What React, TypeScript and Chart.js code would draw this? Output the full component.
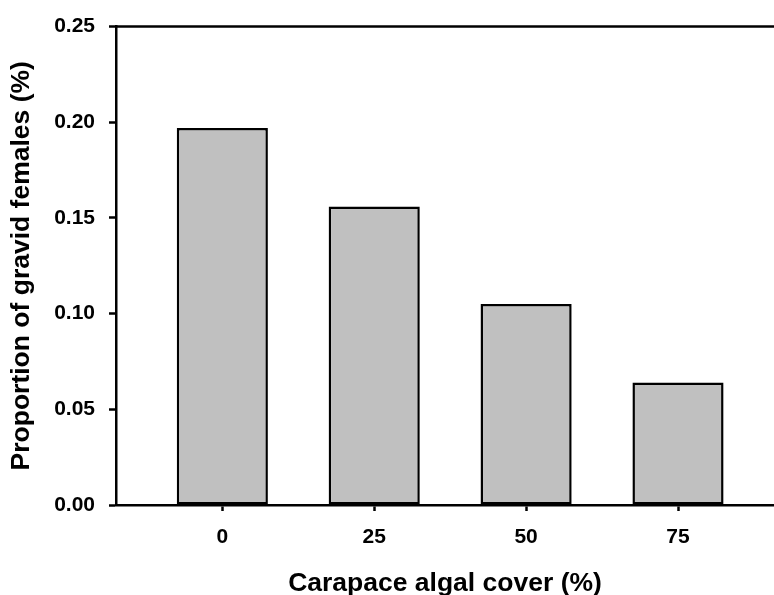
import React, { useEffect, useRef } from "react";
import { Chart, registerables } from "chart.js";

Chart.register(...registerables);

const cover = [0, 25, 50, 75];
const proportion = [0.197, 0.156, 0.105, 0.064];
const yTickValues = [0, 0.05, 0.1, 0.15, 0.2, 0.25];
const xTitle = "Carapace algal cover (%)";
const yTitle = "Proportion of gravid females (%)";

const FONT = "'Liberation Sans', Arial, sans-serif";

const topFrame = {
  id: "topFrame",
  afterDraw(chart: any) {
    const { ctx, chartArea } = chart;
    ctx.save();
    ctx.strokeStyle = "#000";
    ctx.lineWidth = 2.5;
    ctx.beginPath();
    ctx.moveTo(chartArea.left, chartArea.top);
    ctx.lineTo(chartArea.right, chartArea.top);
    ctx.stroke();
    ctx.restore();
  },
};

export default function App() {
  const ref = useRef<HTMLCanvasElement | null>(null);
  useEffect(() => {
    if (!ref.current) return;
    const chart = new Chart(ref.current, {
      type: "bar",
      data: {
        datasets: [
          {
            data: cover.map((c, i) => ({ x: c, y: proportion[i] })),
            backgroundColor: "#c0c0c0",
            borderColor: "#000",
            borderWidth: 2.5,
            borderSkipped: false,
            barPercentage: 0.6,
            categoryPercentage: 1,
          },
        ],
      },
      options: {
        responsive: false,
        animation: false,
        layout: { padding: { top: 25, right: 0, left: 0, bottom: 0 } },
        plugins: { legend: { display: false }, tooltip: { enabled: false } },
        scales: {
          x: {
            type: "linear",
            min: -17.5,
            max: 90.8,
            offset: false,
            afterBuildTicks: (scale: any) => {
              scale.ticks = cover.map((v) => ({ value: v }));
            },
            afterFit: (scale: any) => {
              scale.height = 90;
            },
            border: { display: true, color: "#000", width: 2.5 },
            grid: {
              offset: false,
              drawOnChartArea: false,
              drawTicks: true,
              tickLength: 6,
              tickWidth: 2.5,
              tickColor: "#000",
            },
            ticks: {
              color: "#000",
              padding: 14,
              maxRotation: 0,
              autoSkip: false,
              font: { family: FONT, size: 21, weight: "bold" },
              callback: (v: any) => String(v),
            },
            title: {
              display: true,
              text: xTitle,
              color: "#000",
              font: { family: FONT, size: 26.5, weight: "bold", lineHeight: 1 },
              padding: { top: 0, bottom: -2 },
            },
          },
          y: {
            min: 0,
            max: 0.25,
            afterBuildTicks: (scale: any) => {
              scale.ticks = yTickValues.map((v) => ({ value: v }));
            },
            afterFit: (scale: any) => {
              scale.width = 116;
            },
            border: { display: true, color: "#000", width: 2.5 },
            grid: {
              drawOnChartArea: false,
              drawTicks: true,
              tickLength: 7,
              tickWidth: 2.5,
              tickColor: "#000",
            },
            ticks: {
              color: "#000",
              padding: 14,
              font: { family: FONT, size: 21, weight: "bold" },
              callback: (v: any) => Number(v).toFixed(2),
            },
            title: {
              display: true,
              text: yTitle,
              color: "#000",
              font: { family: FONT, size: 26.5, weight: "bold", lineHeight: 1.2 },
              padding: { top: 6, bottom: 0 },
            },
          },
        },
      },
      plugins: [topFrame],
    } as any);
    return () => chart.destroy();
  }, []);
  return (
    <div style={{ position: "absolute", left: 0, top: 0, width: 774, height: 595, background: "#fff" }}>
      <canvas ref={ref} width={774} height={595} style={{ display: "block" }} />
    </div>
  );
}
